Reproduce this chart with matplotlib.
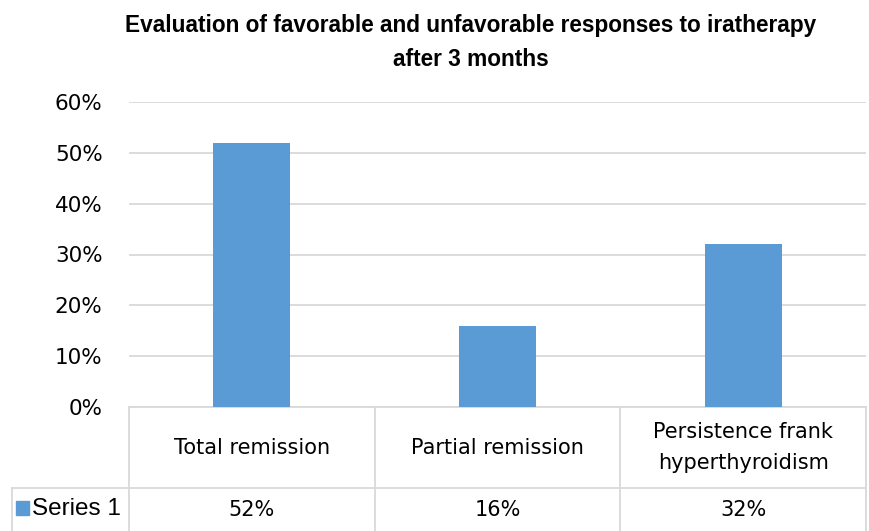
import matplotlib
matplotlib.use("Agg")
import matplotlib.pyplot as plt
from matplotlib.ticker import PercentFormatter

plt.rcParams['font.family'] = ['DejaVu Sans']

# Donnees
categories = ['Total remission', 'Partial remission', 'Persistence frank\nhyperthyroidism']
valeurs = [52, 16, 32]
serie = 'Series 1'
titre = 'Evaluation of favorable and unfavorable responses to iratherapy\nafter 3 months'

bleu = '#5B9BD5'
gris = '#D9D9D9'

fig = plt.figure(figsize=(8.69, 5.31), dpi=100)
ax = fig.add_axes([129 / 869, 1 - 407 / 531, (866 - 129) / 869, (407 - 102) / 531])

x = range(len(categories))
ax.bar(x, valeurs, width=0.313, color=bleu, zorder=3)
ax.set_xlim(-0.5, len(categories) - 0.5)
ax.set_ylim(0, 60)
ax.set_yticks(range(0, 61, 10))
ax.yaxis.set_major_formatter(PercentFormatter(decimals=0))
ax.tick_params(axis='y', length=0, labelsize=15.5, pad=19)
ax.set_xticks([])
ax.grid(axis='y', color=gris, linewidth=1.3, zorder=0)
for s in ['top', 'right', 'left']:
    ax.spines[s].set_visible(False)
ax.spines['bottom'].set_color(gris)
ax.spines['bottom'].set_linewidth(1.3)

fig.suptitle(titre, fontsize=16.3, fontweight='bold', x=471 / 869, y=1 - 14 / 531,
             linespacing=1.59, family=['Liberation Sans', 'DejaVu Sans'])

# Table de donnees sous l'axe
trans = ax.get_xaxis_transform()
y_ligne = -(488 - 407) / (407 - 102)
y_bas = -(531 - 407) / (407 - 102)
for i in range(len(categories) + 1):
    ax.plot([i - 0.5, i - 0.5], [0, y_bas], transform=trans, color=gris,
            linewidth=1.3, clip_on=False)
ax.plot([-0.5, len(categories) - 0.5], [y_ligne, y_ligne], transform=trans,
        color=gris, linewidth=1.3, clip_on=False)
# cellule de la serie
fig.add_artist(plt.Line2D([12 / 869, 129 / 869], [1 - 488 / 531, 1 - 488 / 531],
                          color=gris, linewidth=1.3))
fig.add_artist(plt.Line2D([12 / 869, 12 / 869], [1 - 488 / 531, 0],
                          color=gris, linewidth=1.3))

for i, (cat, v) in enumerate(zip(categories, valeurs)):
    ax.text(i, y_ligne / 2, cat, transform=trans, ha='center', va='center',
            fontsize=15, linespacing=1.73)
    ax.text(i, (y_ligne + y_bas) / 2, f'{v}%', transform=trans, ha='center',
            va='center', fontsize=15)

fig.patches.append(plt.Rectangle((16 / 869, 1 - 515 / 531), 13 / 869, 14 / 531,
                                 transform=fig.transFigure, color=bleu))
fig.text(32 / 869, 1 - 509 / 531, serie, ha='left', va='center', fontsize=17.5,
         family=['Liberation Sans', 'DejaVu Sans'])

fig.savefig('out.png', dpi=100)
